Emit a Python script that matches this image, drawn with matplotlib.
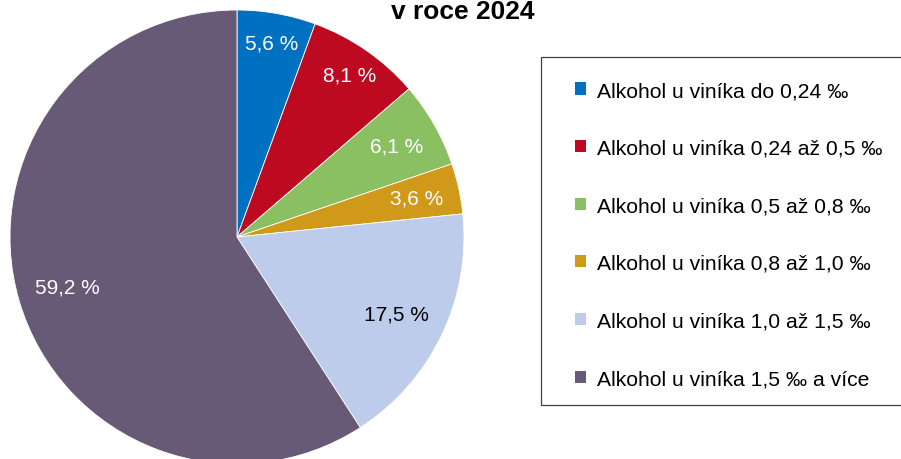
import numpy as np
import matplotlib.pyplot as plt
from matplotlib.patches import Patch, Rectangle

plt.rcParams['font.family'] = ['Liberation Sans', 'DejaVu Sans']

# data
labels = ['Alkohol u viníka do 0,24 ‰', 'Alkohol u viníka 0,24 až 0,5 ‰',
          'Alkohol u viníka 0,5 až 0,8 ‰', 'Alkohol u viníka 0,8 až 1,0 ‰',
          'Alkohol u viníka 1,0 až 1,5 ‰', 'Alkohol u viníka 1,5 ‰ a více']
values = [5.6, 8.1, 6.1, 3.6, 17.5, 59.2]
colors = ['#0070C0', '#BE0A20', '#8BC062', '#D0991A', '#BCCCEA', '#675A76']
label_dist = [0.87, 0.87, 0.81, 0.81, 0.78, 0.78]
label_color = ['white', 'white', 'white', 'white', 'black', 'white']

W, H = 901, 460
fig = plt.figure(figsize=(W / 100, H / 100), dpi=100)
cx, cy, r = 237, 238, 227
ax = fig.add_axes([(cx - r) / W, (H - cy - r) / H, 2 * r / W, 2 * r / H])

wedges, _ = ax.pie(values, colors=colors, startangle=90, counterclock=False,
                   radius=1, wedgeprops=dict(edgecolor='white', linewidth=0.6))
for w, v, d, c in zip(wedges, values, label_dist, label_color):
    ang = np.deg2rad((w.theta1 + w.theta2) / 2)
    ax.text(d * np.cos(ang), d * np.sin(ang), f'{v:.1f} %'.replace('.', ','),
            ha='center', va='center', fontsize=15, color=c)
ax.set_xlim(-1, 1)
ax.set_ylim(-1, 1)
ax.set_aspect('equal')
ax.axis('off')

fig.text(463 / W, 1 - 19 / H, 'v roce 2024', ha='center', va='baseline',
         fontsize=19, fontweight='bold')

# legend frame
fig.patches.append(Rectangle((541 / W, 1 - 406 / H), 400 / W, 348 / H,
                             transform=fig.transFigure, facecolor='none',
                             edgecolor='#404040', linewidth=0.9))

handles = [Patch(facecolor=c, edgecolor='none') for c in colors]
leg = fig.legend(handles, labels, loc='upper left',
                 bbox_to_anchor=(575 / W, 1 - 82 / H),
                 fontsize=15.2, frameon=False,
                 handlelength=0.5, handleheight=0.5, handletextpad=0.55,
                 labelspacing=1.83, borderpad=0, borderaxespad=0)

fig.savefig('out.png', dpi=100)
